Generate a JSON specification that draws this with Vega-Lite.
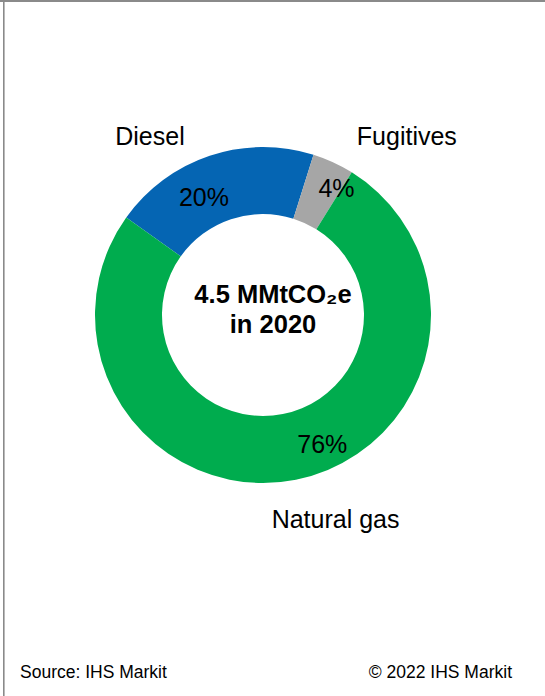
{
  "$schema": "https://vega.github.io/schema/vega-lite/v6.json",
  "width": 545,
  "height": 696,
  "autosize": "none",
  "padding": 0,
  "background": "white",
  "config": {
    "view": {"stroke": null},
    "text": {"font": "Liberation Sans", "color": "black"}
  },
  "data": {
    "values": [
      {"source": "Diesel", "share": 0.20},
      {"source": "Fugitives", "share": 0.04},
      {"source": "Natural gas", "share": 0.76}
    ]
  },
  "layer": [
    {
      "data": {"values": [{}]},
      "mark": {"type": "rule", "stroke": "#8a8a8a", "strokeWidth": 2},
      "encoding": {"x": {"value": 0}, "x2": {"value": 545}, "y": {"value": 1}}
    },
    {
      "data": {"values": [{}]},
      "mark": {"type": "rule", "stroke": "#8a8a8a", "strokeWidth": 1.6},
      "encoding": {"x": {"value": 3.8}, "y": {"value": 0}, "y2": {"value": 696}}
    },
    {
      "mark": {"type": "arc", "x": 263, "y": 315, "outerRadius": 168, "innerRadius": 101},
      "encoding": {
        "theta": {"field": "share", "type": "quantitative", "stack": true, "scale": {"range": [5.332, 11.615]}},
        "order": {"field": "source", "sort": "ascending"},
        "color": {
          "field": "source",
          "type": "nominal",
          "scale": {"domain": ["Diesel", "Fugitives", "Natural gas"], "range": ["#0565b3", "#a6a6a6", "#00ac4e"]},
          "legend": null
        }
      }
    },
    {
      "mark": {"type": "text", "x": 263, "y": 315, "radius": 134, "dx": -16.5, "dy": 18, "fontSize": 25, "align": "center", "baseline": "alphabetic"},
      "encoding": {
        "theta": {"field": "share", "type": "quantitative", "stack": true},
        "order": {"field": "source", "sort": "ascending"},
        "text": {"condition": {"test": "datum.source === 'Diesel'", "field": "share", "type": "quantitative", "format": ".0%"}, "value": ""}
      }
    },
    {
      "mark": {"type": "text", "x": 263, "y": 315, "radius": 134, "dx": 17.5, "dy": 3.4, "fontSize": 25, "align": "center", "baseline": "alphabetic"},
      "encoding": {
        "theta": {"field": "share", "type": "quantitative", "stack": true},
        "order": {"field": "source", "sort": "ascending"},
        "text": {"condition": {"test": "datum.source === 'Fugitives'", "field": "share", "type": "quantitative", "format": ".0%"}, "value": ""}
      }
    },
    {
      "mark": {"type": "text", "x": 263, "y": 315, "radius": 134, "dx": 33, "dy": 6.3, "fontSize": 25, "align": "center", "baseline": "alphabetic"},
      "encoding": {
        "theta": {"field": "share", "type": "quantitative", "stack": true},
        "order": {"field": "source", "sort": "ascending"},
        "text": {"condition": {"test": "datum.source === 'Natural gas'", "field": "share", "type": "quantitative", "format": ".0%"}, "value": ""}
      }
    },
    {
      "mark": {"type": "text", "x": 263, "y": 315, "radius": 215, "dx": -44.8, "dy": 33.8, "fontSize": 25, "align": "center", "baseline": "alphabetic"},
      "encoding": {
        "theta": {"field": "share", "type": "quantitative", "stack": true},
        "order": {"field": "source", "sort": "ascending"},
        "text": {"condition": {"test": "datum.source === 'Diesel'", "field": "source", "type": "nominal"}, "value": ""}
      }
    },
    {
      "mark": {"type": "text", "x": 263, "y": 315, "radius": 215, "dx": 54, "dy": 25, "fontSize": 25, "align": "center", "baseline": "alphabetic"},
      "encoding": {
        "theta": {"field": "share", "type": "quantitative", "stack": true},
        "order": {"field": "source", "sort": "ascending"},
        "text": {"condition": {"test": "datum.source === 'Fugitives'", "field": "source", "type": "nominal"}, "value": ""}
      }
    },
    {
      "mark": {"type": "text", "x": 263, "y": 315, "radius": 215, "dx": 30.4, "dy": 2, "fontSize": 25, "align": "center", "baseline": "alphabetic"},
      "encoding": {
        "theta": {"field": "share", "type": "quantitative", "stack": true},
        "order": {"field": "source", "sort": "ascending"},
        "text": {"condition": {"test": "datum.source === 'Natural gas'", "field": "source", "type": "nominal"}, "value": ""}
      }
    },
    {
      "data": {"values": [{}]},
      "mark": {"type": "text", "x": 273, "y": 303, "fontSize": 25.5, "fontWeight": "bold", "align": "center", "baseline": "alphabetic", "lineHeight": 30},
      "encoding": {"text": {"value": ["4.5 MMtCO₂e", "in 2020"]}}
    },
    {
      "data": {"values": [{}]},
      "mark": {"type": "text", "x": 20, "y": 678, "fontSize": 17.5, "align": "left", "baseline": "alphabetic"},
      "encoding": {"text": {"value": "Source: IHS Markit"}}
    },
    {
      "data": {"values": [{}]},
      "mark": {"type": "text", "x": 512, "y": 678, "fontSize": 17.5, "align": "right", "baseline": "alphabetic"},
      "encoding": {"text": {"value": "© 2022 IHS Markit"}}
    }
  ]
}
